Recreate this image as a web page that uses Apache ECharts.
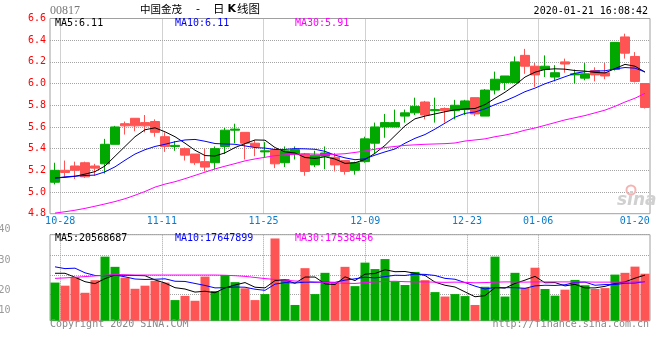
<!DOCTYPE html>
<html>
<head>
<meta charset="utf-8">
<script src="https://cdn.jsdelivr.net/npm/echarts@6/dist/echarts.min.js"></script>
<style>
html,body{margin:0;padding:0;background:#fff;}
#chart{width:660px;height:360px;}
</style>
</head>
<body>
<div id="chart"></div>
<script>
// ---- data ----
const dates = ['10-25','10-28','10-29','10-30','10-31','11-01','11-04','11-05','11-06','11-07','11-08',
  '11-11','11-12','11-13','11-14','11-15','11-18','11-19','11-20','11-21','11-22',
  '11-25','11-26','11-27','11-28','11-29','12-02','12-03','12-04','12-05','12-06',
  '12-09','12-10','12-11','12-12','12-13','12-16','12-17','12-18','12-19','12-20',
  '12-23','12-24','12-27','12-30','12-31','01-02','01-03',
  '01-06','01-07','01-08','01-09','01-10','01-13','01-14','01-15','01-16','01-17','01-20','01-21'];

const openP  = [5.09,5.20,5.24,5.27,5.24,5.26,5.44,5.63,5.68,5.64, 5.65,5.51,5.42,5.40,5.35,5.28,5.27,5.42,5.57,5.55,
  5.45,5.37,5.39,5.27,5.35,5.35,5.25,5.33,5.32,5.29, 5.20,5.28,5.45,5.60,5.60,5.70,5.73,5.83,5.75,5.77,
  5.75,5.76,5.87,5.70,5.94,6.01,6.01,6.26,6.16,6.13, 6.06,6.20,6.08,6.05,6.12,6.10,6.13,6.43,6.25,6.00];
const closeP = [5.20,5.18,5.20,5.14,5.22,5.44,5.60,5.61,5.61,5.61, 5.55,5.42,5.43,5.34,5.27,5.23,5.40,5.57,5.58,5.45,
  5.42,5.38,5.26,5.38,5.39,5.19,5.34,5.36,5.25,5.19, 5.27,5.49,5.60,5.64,5.64,5.73,5.79,5.71,5.76,5.75,
  5.80,5.84,5.72,5.94,6.04,6.07,6.20,6.16,6.08,6.16, 6.10,6.18,6.09,6.09,6.08,6.07,6.38,6.28,6.02,5.78];
const lowP   = [5.07,5.14,5.12,5.13,5.15,5.17,5.44,5.53,5.56,5.55, 5.51,5.37,5.38,5.29,5.25,5.19,5.21,5.35,5.45,5.30,
  5.33,5.32,5.22,5.23,5.30,5.15,5.23,5.21,5.19,5.16, 5.16,5.27,5.35,5.50,5.60,5.64,5.71,5.67,5.64,5.64,
  5.67,5.71,5.70,5.70,5.90,5.94,6.01,6.09,5.97,6.06, 6.02,6.10,6.00,6.03,6.02,6.04,6.12,6.23,6.01,5.77];
const highP  = [5.27,5.29,5.28,5.28,5.26,5.49,5.61,5.65,5.68,5.71, 5.67,5.55,5.47,5.41,5.35,5.40,5.42,5.59,5.63,5.55,
  5.48,5.46,5.40,5.42,5.42,5.36,5.38,5.42,5.36,5.29, 5.28,5.51,5.64,5.72,5.76,5.76,5.87,5.84,5.87,5.78,
  5.85,5.85,5.87,5.95,6.11,6.07,6.25,6.32,6.19,6.26, 6.17,6.23,6.13,6.19,6.15,6.19,6.38,6.46,6.29,6.00];

const ma5  = [5.130,5.135,5.145,5.165,5.188,5.240,5.330,5.420,5.510,5.574, 5.592,5.555,5.510,5.450,5.385,5.336,5.332,5.361,5.410,5.446,
  5.480,5.478,5.410,5.370,5.360,5.318,5.310,5.325,5.304,5.264, 5.270,5.300,5.357,5.430,5.520,5.610,5.675,5.700,5.720,5.740,
  5.758,5.766,5.770,5.806,5.864,5.920,5.985,6.060,6.105,6.130, 6.136,6.133,6.120,6.115,6.103,6.098,6.138,6.177,6.160,6.106];
const ma10 = [5.127,5.140,5.146,5.152,5.156,5.186,5.232,5.293,5.350,5.390, 5.420,5.440,5.463,5.480,5.485,5.468,5.447,5.443,5.440,5.425,
  5.410,5.405,5.392,5.393,5.400,5.398,5.394,5.375,5.340,5.315, 5.298,5.306,5.340,5.370,5.397,5.450,5.495,5.530,5.580,5.635,
  5.690,5.725,5.738,5.767,5.806,5.840,5.880,5.925,5.958,5.998, 6.030,6.063,6.095,6.110,6.115,6.118,6.135,6.148,6.142,6.107];
const ma30 = [4.806,4.818,4.832,4.849,4.869,4.890,4.912,4.938,4.970,5.005, 5.045,5.073,5.095,5.123,5.153,5.183,5.213,5.238,5.262,5.287,
  5.305,5.320,5.335,5.343,5.348,5.352,5.350,5.346,5.348,5.353, 5.365,5.378,5.395,5.410,5.420,5.430,5.435,5.440,5.443,5.446,
  5.452,5.470,5.480,5.490,5.510,5.525,5.545,5.570,5.590,5.615, 5.640,5.665,5.685,5.705,5.730,5.755,5.790,5.830,5.865,5.910];

// volume, millions of shares
const vol = [17.2,15.8,19.6,12.6,18.3,28.9,24.3,19.4,14.4,15.8, 18.0,17.2,9.3,11.2,9.0,19.9,13.4,20.6,17.4,14.6,
  9.3,12.0,37.1,18.8,7.1,23.7,12.0,21.6,17.2,24.3, 15.6,26.2,23.3,27.8,17.7,16.1,22.0,18.3,12.9,10.9,
  12.0,11.1,7.1,15.3,28.9,10.9,21.6,14.8,23.9,14.3, 11.3,14.0,18.4,16.0,14.3,14.7,20.8,21.6,24.4,21.2];
const volMa5  = [21.4,21.4,19.6,17.6,16.7,19.0,20.6,20.5,20.4,20.3, 18.4,17.0,14.9,14.3,12.9,13.3,12.6,14.8,16.1,17.2,
  15.1,14.8,18.1,18.4,16.9,19.7,19.7,16.6,16.3,19.8, 18.1,21.0,21.3,23.0,22.1,22.2,21.4,20.4,17.4,16.0,
  15.2,13.0,10.8,11.3,14.9,14.7,16.8,18.3,20.0,17.1, 17.2,15.7,16.4,14.8,14.8,15.5,16.8,17.5,19.2,20.57];
const volMa10 = [24.3,23.5,23.7,21.6,20.4,20.3,20.6,19.8,18.8,18.6, 18.7,18.9,17.8,17.7,16.8,15.9,14.8,14.9,15.2,15.1,
  14.2,13.7,16.5,17.2,17.0,17.4,17.3,17.4,17.3,18.3, 18.9,19.6,19.3,19.9,20.5,20.4,21.0,20.9,20.4,19.1,
  18.7,17.2,15.6,14.3,15.0,14.9,14.9,14.6,15.7,16.0, 15.9,16.2,17.3,17.4,16.0,16.3,16.3,16.9,17.0,17.65];
const volMa30 = [19.1,19.3,19.6,19.9,20.2,20.5,20.8,20.7,20.6,20.6, 20.6,20.6,20.6,20.6,20.6,20.6,20.6,20.5,20.3,20.0,
  19.5,19.0,18.6,18.3,17.9,17.7,17.5,17.3,17.1,16.9, 16.8,17.2,17.5,17.7,17.8,17.6,17.5,17.5,17.4,17.3,
  17.4,17.3,17.1,17.2,17.4,17.5,17.5,17.4,17.5,17.5, 17.5,17.5,17.5,17.5,17.4,17.4,17.4,17.4,17.5,17.54];

const dateLabelIdx = [1,11,21,31,41,48,58];   // category positions that carry a date label
const dateGridIdx  = [1,11,21,31,41,48];      // dotted vertical grid lines
const priceTicks = {min: 4.8, max: 6.6, step: 0.2};
const volTickLabels = ['40','30','20','10'];
const maTexts = {ma5: 'MA5:6.11', ma10: 'MA10:6.11', ma30: 'MA30:5.91'};
const volMaTexts = {ma5: 'MA5:20568687', ma10: 'MA10:17647899', ma30: 'MA30:17538456'};

// ---- styles ----
const GREEN = '#00a800', RED = '#ff5454';
const MONO = '"DejaVu Sans Mono", "Liberation Mono", monospace';
const GRIDC = '#a4a4a4';
const dotted = {color: GRIDC, type: [1, 1], width: 1};

const chart = echarts.init(document.getElementById('chart'), null, {renderer: 'canvas'});

const candleData = dates.map((d, i) => [openP[i], closeP[i], lowP[i], highP[i]]);
const volData = vol.map((v, i) => ({
  value: v,
  itemStyle: {color: closeP[i] >= openP[i] ? GREEN : RED}
}));
const hGridCats = new Array(86).fill('');   // pixel-row helper axis for the volume grid lines
const volHLines = [26, 45, 65];

function lineSeries(data, color, xi, yi) {
  return {type: 'line', data, xAxisIndex: xi, yAxisIndex: yi, symbol: 'none', silent: true,
    lineStyle: {color, width: 1}, z: 4, animation: false};
}
function txt(x, y, text, fill, font, align, extra) {
  return Object.assign({type: 'text', x, y, silent: true, z: 10,
    style: {text, fill, font, textAlign: align || 'left', align: align || 'left',
      textVerticalAlign: 'middle', verticalAlign: 'middle'}}, extra || {});
}

const option = {
  animation: false,
  backgroundColor: '#fff',
  grid: [
    {left: 50, top: 18.5, width: 600, height: 195.2, show: true, borderColor: '#a0a0a0', borderWidth: 1},
    {left: 50, top: 234.7, width: 600, height: 86, show: true, borderColor: '#a0a0a0', borderWidth: 1}
  ],
  xAxis: [
    {type: 'category', gridIndex: 0, data: dates, boundaryGap: true, show: false},
    {type: 'category', gridIndex: 0, data: dates, boundaryGap: false, position: 'bottom',
      axisLine: {show: false}, axisTick: {show: false},
      axisLabel: {
        interval: (idx) => dateLabelIdx.includes(idx),
        color: '#0a7ccc', fontFamily: MONO, fontSize: 10, margin: 3,
        formatter: (v, idx) => idx === dates.length - 2 ? '{e|' + v + '}' : v,
        rich: {e: {color: '#0a7ccc', fontFamily: MONO, fontSize: 10, padding: [0, 10, 0, 0]}}
      },
      splitLine: {show: true, interval: (idx) => dateGridIdx.includes(idx), lineStyle: dotted}
    },
    {type: 'category', gridIndex: 1, data: dates, boundaryGap: true, show: false},
    {type: 'category', gridIndex: 1, data: dates, boundaryGap: false, position: 'bottom',
      axisLine: {show: false}, axisTick: {show: false}, axisLabel: {show: false},
      splitLine: {show: true, interval: (idx) => dateGridIdx.includes(idx), lineStyle: dotted}
    }
  ],
  yAxis: [
    {type: 'value', gridIndex: 0, min: priceTicks.min, max: priceTicks.max, interval: priceTicks.step,
      axisLine: {show: false}, axisTick: {show: false},
      axisLabel: {color: '#ff0000', fontFamily: MONO, fontSize: 10, margin: 4, formatter: (v) => v.toFixed(1)},
      splitLine: {show: true, lineStyle: dotted, showMinLine: false, showMaxLine: false}
    },
    {type: 'value', gridIndex: 1, min: 0, max: 38.8, position: 'left', show: false},
    {type: 'category', gridIndex: 1, data: hGridCats, boundaryGap: true, position: 'left',
      axisLine: {show: false}, axisTick: {show: false}, axisLabel: {show: false},
      splitLine: {show: true, interval: (idx) => volHLines.includes(idx), lineStyle: dotted}
    }
  ],
  series: [
    {type: 'candlestick', xAxisIndex: 0, yAxisIndex: 0, data: candleData, barWidth: 9, silent: true, z: 3,
      itemStyle: {color: GREEN, color0: RED, borderColor: GREEN, borderColor0: RED, borderWidth: 1}},
    lineSeries(ma5, '#000000', 0, 0),
    lineSeries(ma10, '#0000ff', 0, 0),
    lineSeries(ma30, '#ff00ff', 0, 0),
    {type: 'bar', xAxisIndex: 2, yAxisIndex: 1, data: volData, barWidth: 9, silent: true, z: 3},
    lineSeries(volMa5, '#000000', 2, 1),
    lineSeries(volMa10, '#0000ff', 2, 1),
    lineSeries(volMa30, '#ff00ff', 2, 1)
  ],
  graphic: [
    // watermark
    {type: 'circle', silent: true, z: 1, shape: {cx: 631, cy: 190, r: 4.5},
      style: {fill: 'none', stroke: '#f4b4b4', lineWidth: 2}},
    txt(617, 201, 'sina', '#d0d0d0', 'italic bold 17px "DejaVu Sans"', 'left', {z: 1}),
    // header
    txt(50, 10.5, '00817', '#777777', '12px "Liberation Serif"'),
    txt(140, 9, '中国金茂', '#000', '10.5px "Noto Sans CJK SC"'),
    txt(198, 9, '-', '#000', '11px "DejaVu Sans"', 'center'),
    {type: 'text', x: 213, y: 9, silent: true, z: 10,
      style: {text: '{a|日}{k|K}{a|线图}', fill: '#000', textVerticalAlign: 'middle', verticalAlign: 'middle',
        rich: {a: {fontSize: 11.5, fontFamily: '"Noto Sans CJK SC"', fill: '#000', color: '#000'},
               k: {fontSize: 11, fontWeight: 'bold', fontFamily: '"DejaVu Sans"', fill: '#000', color: '#000', padding: [0, 1, 0, 3]}}}},
    txt(648, 11.5, '2020-01-21 16:08:42', '#000', '10px ' + MONO, 'right'),
    // price MA legend
    txt(55, 23.7, maTexts.ma5, '#000000', '10px ' + MONO),
    txt(175, 23.7, maTexts.ma10, '#0000ff', '10px ' + MONO),
    txt(295, 23.7, maTexts.ma30, '#ff00ff', '10px ' + MONO),
    // volume MA legend
    txt(55, 238.7, volMaTexts.ma5, '#000000', '10px ' + MONO),
    txt(175, 238.7, volMaTexts.ma10, '#0000ff', '10px ' + MONO),
    txt(295, 238.7, volMaTexts.ma30, '#ff00ff', '10px ' + MONO),
    // volume axis labels
    txt(10.5, 229.5, volTickLabels[0], '#9a9a9a', '10px ' + MONO, 'right'),
    txt(10.5, 260.3, volTickLabels[1], '#9a9a9a', '10px ' + MONO, 'right'),
    txt(10.5, 290.6, volTickLabels[2], '#9a9a9a', '10px ' + MONO, 'right'),
    txt(10.5, 310.6, volTickLabels[3], '#9a9a9a', '10px ' + MONO, 'right'),
    // footer
    txt(50, 324, 'Copyright 2020 SINA.COM', '#888888', '10px ' + MONO),
    txt(649, 324, 'http://finance.sina.com.cn', '#888888', '10px ' + MONO, 'right')
  ]
};
chart.setOption(option);
</script>
</body>
</html>
